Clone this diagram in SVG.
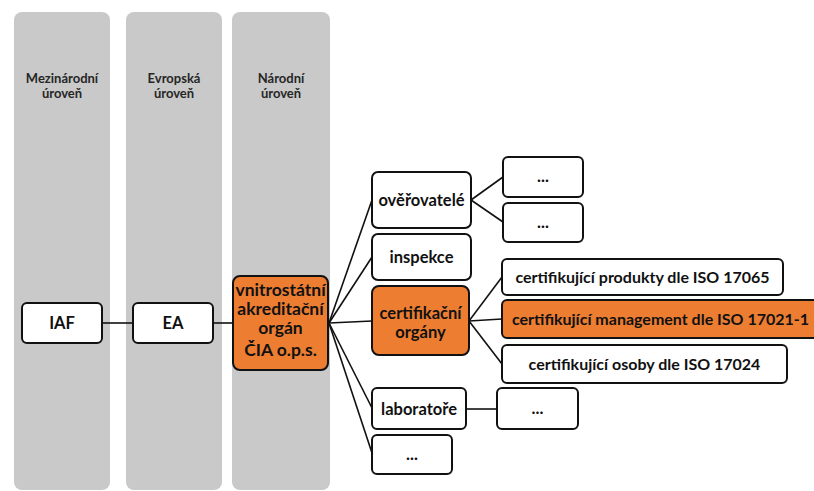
<svg xmlns="http://www.w3.org/2000/svg" width="814" height="491" viewBox="0 0 814 491">
<style>
.col{fill:#c9c9c9}
.hd{font-family:Lato,"Liberation Sans",sans-serif;font-weight:bold;font-size:13px;fill:#262626;text-anchor:middle}
.box{fill:#fff;stroke:#111;stroke-width:2}
.ob{fill:#ed7d31;stroke:#111;stroke-width:2}
.t{font-family:Lato,"Liberation Sans",sans-serif;font-weight:bold;font-size:16.5px;fill:#111;text-anchor:middle}
.s{font-size:16px}
.o{font-size:17.5px}
.c line{stroke:#111;stroke-width:1.6}
</style>
<rect width="814" height="491" fill="#fff"/>
<g id="columns">
<rect class="col" x="14" y="12" width="96" height="478" rx="8"/>
<rect class="col" x="126" y="12" width="96" height="478" rx="8"/>
<rect class="col" x="232" y="12" width="98" height="478" rx="8"/>
<text class="hd" x="62" y="83">Mezinárodní</text><text class="hd" x="62" y="98">úroveň</text>
<text class="hd" x="174" y="83">Evropská</text><text class="hd" x="174" y="98">úroveň</text>
<text class="hd" x="281" y="83">Národní</text><text class="hd" x="281" y="98">úroveň</text>
</g>
<g id="connectors" class="c">
<line x1="102" y1="323" x2="133" y2="323"/>
<line x1="213" y1="323" x2="233" y2="323"/>
<line x1="329" y1="323" x2="372" y2="200"/>
<line x1="329" y1="323" x2="372" y2="257"/>
<line x1="329" y1="323" x2="372" y2="321"/>
<line x1="329" y1="323" x2="372" y2="408"/>
<line x1="329" y1="323" x2="372" y2="453"/>
<line x1="471" y1="200" x2="503" y2="177"/>
<line x1="471" y1="200" x2="503" y2="222"/>
<line x1="469" y1="321" x2="502" y2="277"/>
<line x1="469" y1="321" x2="502" y2="319"/>
<line x1="469" y1="321" x2="502" y2="364"/>
<line x1="466" y1="409" x2="497" y2="409"/>
</g>
<g id="iaf"><rect class="box" x="22" y="303" width="80" height="40" rx="5"/><text class="t" x="62" y="329">IAF</text></g>
<g id="ea"><rect class="box" x="133" y="303" width="80" height="40" rx="5"/><text class="t" x="173" y="329">EA</text></g>
<g id="cia"><rect class="ob" x="233" y="276" width="95" height="94" rx="7"/>
<text class="t o" x="280.5" y="296">vnitrostátní</text><text class="t o" x="280.5" y="315">akreditační</text><text class="t o" x="280.5" y="334">orgán</text><text class="t o" x="280.5" y="356">ČIA o.p.s.</text></g>
<g id="overovatele"><rect class="box" x="372" y="172" width="99" height="56" rx="6"/><text class="t" x="421.5" y="206">ověřovatelé</text></g>
<g id="ov1"><rect class="box" x="503" y="157" width="80" height="40" rx="5"/><text class="t" x="543" y="182">...</text></g>
<g id="ov2"><rect class="box" x="503" y="203" width="80" height="39" rx="5"/><text class="t" x="543" y="228">...</text></g>
<g id="inspekce"><rect class="box" x="372" y="234" width="99" height="46" rx="6"/><text class="t" x="421.5" y="263">inspekce</text></g>
<g id="certifikacni"><rect class="ob" x="372" y="286" width="97" height="69" rx="7"/><text class="t" x="420.5" y="319">certifikační</text><text class="t" x="420.5" y="338">orgány</text></g>
<g id="cp"><rect class="box" x="502" y="259" width="281" height="36" rx="5"/><text class="t s" x="642.5" y="283">certifikující produkty dle ISO 17065</text></g>
<g id="cm"><rect class="ob" x="502" y="300" width="330" height="38" rx="5"/><text class="t s" x="512" y="325" style="text-anchor:start">certifikující management dle ISO 17021-1</text></g>
<g id="co"><rect class="box" x="502" y="345" width="285" height="38" rx="5"/><text class="t s" x="644.5" y="370">certifikující osoby dle ISO 17024</text></g>
<g id="laboratore"><rect class="box" x="372" y="388" width="94" height="41" rx="5"/><text class="t" x="419" y="415">laboratoře</text></g>
<g id="lab1"><rect class="box" x="497" y="388" width="81" height="41" rx="5"/><text class="t" x="537.5" y="414">...</text></g>
<g id="dots"><rect class="box" x="372" y="435" width="80" height="39" rx="5"/><text class="t" x="412" y="460">...</text></g>
</svg>
